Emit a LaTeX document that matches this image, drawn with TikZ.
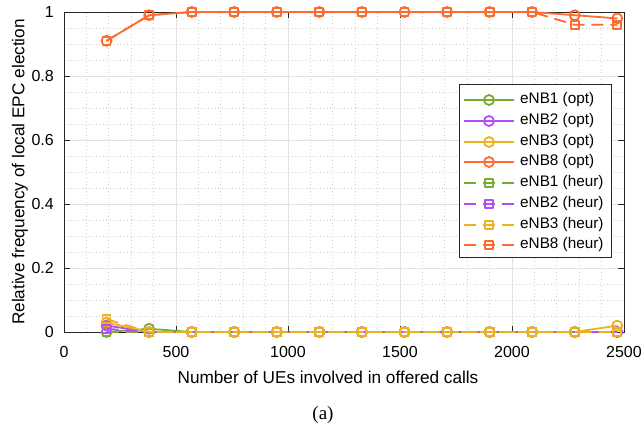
\documentclass[tikz,border=0pt]{standalone}
\usepackage{fontspec}
\setmainfont{Liberation Sans}
\newfontfamily\captionfont{Liberation Serif}
\usetikzlibrary{plotmarks,calc}

\definecolor{cgreen}{HTML}{77AC30}
\definecolor{cpurple}{HTML}{B44CF7}
\definecolor{cyellow}{HTML}{EDB120}
\definecolor{corange}{HTML}{FF6A2E}
\definecolor{axiscol}{HTML}{262626}
\definecolor{gridmajor}{HTML}{E2E2E2}
\definecolor{gridminor}{HTML}{CFCFCF}

\begin{document}
\begin{tikzpicture}[
  font=\fontsize{16pt}{18pt}\selectfont,
  majorgrid/.style={draw=gridmajor, line width=0.7pt},
  minorgrid/.style={draw=gridminor, line width=0.7pt, dash pattern=on 0.9pt off 2.6pt},
  axisline/.style={draw=axiscol, line width=0.8pt},
  tickmark/.style={draw=axiscol, line width=0.8pt},
  series/.style={line width=1.8pt, line join=round},
  optdash/.style={series},
  heurdash/.style={series, dash pattern=on 12pt off 7pt},
  optline/.style={optdash, mark=o, mark size=5pt, mark options={solid}},
  heurline/.style={heurdash, mark=square, mark size=4pt, mark options={solid}},
  ticklabel/.style={text=black, inner sep=0pt},
  axislabel/.style={text=black, inner sep=0pt, font=\fontsize{17.2pt}{20pt}\selectfont},
  legtext/.style={text=black, inner sep=0pt, anchor=west, font=\fontsize{15.3pt}{17pt}\selectfont},
]
\useasboundingbox (0,0) rectangle (643pt,424pt);

% plot area: x from 0 to 2500, y from 0 to 1
\begin{scope}[shift={(64pt,92pt)}, x=0.224pt, y=320pt]
  % minor grid
  \foreach \xx in {100,200,300,400,600,700,800,900,1100,1200,1300,1400,1600,1700,1800,1900,2100,2200,2300,2400}
    \draw[minorgrid] (\xx,0) -- (\xx,1);
  \foreach \yy in {0.05,0.1,0.15,0.25,0.3,0.35,0.45,0.5,0.55,0.65,0.7,0.75,0.85,0.9,0.95}
    \draw[minorgrid] (0,\yy) -- (2500,\yy);
  % major grid
  \foreach \xx in {500,1000,1500,2000}
    \draw[majorgrid] (\xx,0) -- (\xx,1);
  \foreach \yy in {0.2,0.4,0.6,0.8}
    \draw[majorgrid] (0,\yy) -- (2500,\yy);

  % axes box and ticks
  \draw[axisline] (0,0) rectangle (2500,1);
  \foreach \xx in {0,500,1000,1500,2000,2500} {
    \draw[tickmark] (\xx,0) -- ++(0,5.6pt);
    \draw[tickmark] (\xx,1) -- ++(0,-5.6pt);
    \node[ticklabel, anchor=base] (xt\xx) at ([yshift=-25pt]\xx,0) {\xx};
  }
  \foreach \yy/\lab in {0/0,0.2/0.2,0.4/0.4,0.6/0.6,0.8/0.8,1/1} {
    \draw[tickmark] (0,\yy) -- ++(5.6pt,0);
    \draw[tickmark] (2500,\yy) -- ++(-5.6pt,0);
    \node[ticklabel, anchor=east] (yt\lab) at ([xshift=-10pt]0,\yy) {\lab};
  }

  % optimal election
  \draw[optline, draw=cgreen] plot coordinates {(190,0) (380,0.01) (570,0) (760,0) (950,0) (1140,0) (1330,0) (1520,0) (1710,0) (1900,0) (2090,0) (2280,0) (2470,0)};
  \draw[optline, draw=cpurple] plot coordinates {(190,0.02) (380,0) (570,0) (760,0) (950,0) (1140,0) (1330,0) (1520,0) (1710,0) (1900,0) (2090,0) (2280,0) (2470,0)};
  \draw[optline, draw=cyellow] plot coordinates {(190,0.03) (380,0) (570,0) (760,0) (950,0) (1140,0) (1330,0) (1520,0) (1710,0) (1900,0) (2090,0) (2280,0) (2470,0.02)};
  \draw[optline, draw=corange] plot coordinates {(190,0.91) (380,0.99) (570,1) (760,1) (950,1) (1140,1) (1330,1) (1520,1) (1710,1) (1900,1) (2090,1) (2280,0.99) (2470,0.98)};
  % heuristic election
  \draw[heurline, draw=cgreen] plot coordinates {(190,0) (380,0) (570,0) (760,0) (950,0) (1140,0) (1330,0) (1520,0) (1710,0) (1900,0) (2090,0) (2280,0) (2470,0)};
  \draw[heurline, draw=cpurple] plot coordinates {(190,0.01) (380,0) (570,0) (760,0) (950,0) (1140,0) (1330,0) (1520,0) (1710,0) (1900,0) (2090,0) (2280,0) (2470,0)};
  \draw[heurline, draw=cyellow] plot coordinates {(190,0.04) (380,0) (570,0) (760,0) (950,0) (1140,0) (1330,0) (1520,0) (1710,0) (1900,0) (2090,0) (2280,0) (2470,0)};
  \draw[heurline, draw=corange] plot coordinates {(190,0.91) (380,0.99) (570,1) (760,1) (950,1) (1140,1) (1330,1) (1520,1) (1710,1) (1900,1) (2090,1) (2280,0.96) (2470,0.96)};
\end{scope}

% axis labels and caption
\node[axislabel] (xlabel) at (328pt,47pt) {Number of UEs involved in offered calls};
\node[axislabel, rotate=90] (ylabel) at (20pt,252pt) {Relative frequency of local EPC election};
\node[inner sep=0pt, font=\captionfont\fontsize{19pt}{22pt}\selectfont] (caption) at (323pt,9pt) {(a)};

% legend
\node[draw=axiscol, line width=0.7pt, fill=white, minimum width=152pt, minimum height=173pt, anchor=north west, inner sep=0pt] (legend) at (459pt,340pt) {};
\foreach \i/\yl/\col/\sty/\lab in {0/324/cgreen/opt/eNB1 (opt), 1/303/cpurple/opt/eNB2 (opt), 2/282/cyellow/opt/eNB3 (opt), 3/262/corange/opt/eNB8 (opt),
                                   4/241/cgreen/heur/eNB1 (heur), 5/220/cpurple/heur/eNB2 (heur), 6/199/cyellow/heur/eNB3 (heur), 7/179/corange/heur/eNB8 (heur)} {
  \coordinate (la\i) at (464pt,\yl pt);
  \coordinate (lb\i) at (514pt,\yl pt);
  \draw[\sty dash, draw=\col] (la\i) -- (lb\i);
  \draw[\sty line, draw=\col] plot[only marks] coordinates {($(la\i)!0.5!(lb\i)$)};
  \node[legtext] (lt\i) at (520pt,\yl pt) {\lab};
}
\end{tikzpicture}
\end{document}
